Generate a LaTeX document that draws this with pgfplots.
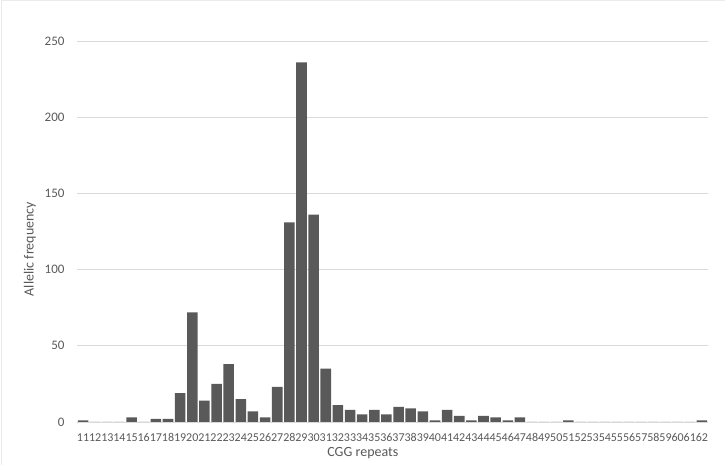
\documentclass[border=0pt]{standalone}
\usepackage{pgfplots}
\pgfplotsset{compat=1.18}
\usetikzlibrary{calc}
\usepackage{fontspec}
\setmainfont{Carlito}
\definecolor{barc}{HTML}{595959}
\definecolor{txt}{HTML}{595959}
\definecolor{gridc}{HTML}{D9D9D9}
\definecolor{framec}{HTML}{EBEBEB}
\begin{document}
\begin{tikzpicture}
\begin{axis}[
  scale only axis, width=631pt, height=381pt,
  xmin=10.5, xmax=62.5, ymin=0, ymax=250,
  xtick={11,...,62}, ytick={0,50,...,250},
  ymajorgrids, grid style={gridc, line width=0.8pt},
  axis lines*=left,
  y axis line style={draw=none},
  x axis line style={gridc, line width=0.8pt},
  major tick length=0pt,
  tick label style={txt},
  xticklabel style={font=\fontsize{12}{12}\selectfont, yshift=-8pt},
  yticklabel style={font=\fontsize{13}{13}\selectfont, xshift=-9pt},
  /pgf/number format/assume math mode=true,
  xlabel={CGG repeats}, ylabel={Allelic frequency},
  label style={txt, font=\fontsize{14}{14}\selectfont},
  xlabel style={at={(rel axis cs:0.453,-0.0806)}, anchor=center},
  ylabel style={at={(rel axis cs:-0.0745,0.454)}, anchor=center, rotate=0},
]
\addplot[ybar, bar width=0.87, fill=barc, draw=none] coordinates {
(11,1) (12,0) (13,0) (14,0) (15,3) (16,0) (17,2) (18,2) (19,19) (20,72)
(21,14) (22,25) (23,38) (24,15) (25,7) (26,3) (27,23) (28,131) (29,236) (30,136)
(31,35) (32,11) (33,8) (34,5) (35,8) (36,5) (37,10) (38,9) (39,7) (40,1)
(41,8) (42,4) (43,1) (44,4) (45,3) (46,1) (47,3) (48,0) (49,0) (50,0)
(51,1) (52,0) (53,0) (54,0) (55,0) (56,0) (57,0) (58,0) (59,0) (60,0)
(61,0) (62,1)
};
\coordinate (ll) at (rel axis cs:0,0);
\end{axis}
\draw[framec, line width=1pt] ($(ll)+(-75pt,-43pt)$) -- ++(0,464pt) -- ++(723pt,0);
\pgfresetboundingbox
\path[use as bounding box] ($(ll)+(-77pt,-43pt)$) rectangle ++(725pt,465pt);
\end{tikzpicture}
\end{document}
